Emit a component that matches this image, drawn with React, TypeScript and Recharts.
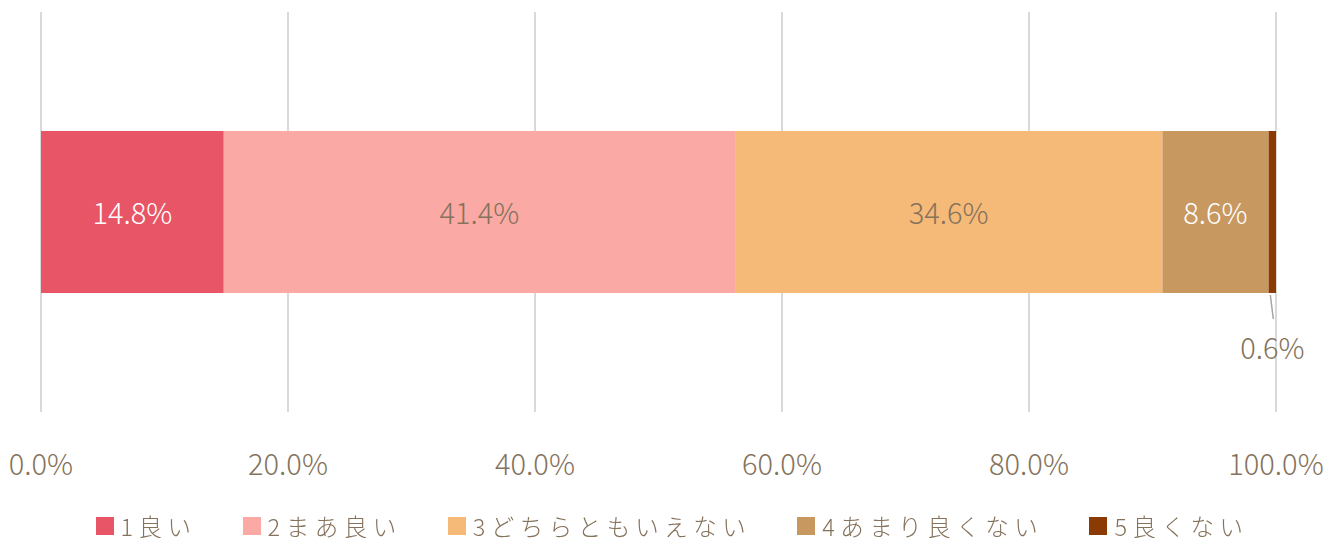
import { Bar, BarChart, CartesianGrid, LabelList, Legend, XAxis, YAxis } from "recharts";

const categories = ["回答"];
const seriesNames = ["1良い", "2まあ良い", "3どちらともいえない", "4あまり良くない", "5良くない"];
const seriesValues = [14.8, 41.4, 34.6, 8.6, 0.6];
const seriesColors = ["#E85566", "#FBA9A4", "#F5B978", "#C89861", "#8B3A04"];
const labelColors = ["#ffffff", "#85725C", "#85725C", "#ffffff", "#85725C"];
const xTicks = [0, 20, 40, 60, 80, 100];

const FONT = "'Noto Sans CJK JP', 'Noto Sans', sans-serif";
const TEXT = "#85725C";

const data = categories.map((name) => {
  const row: Record<string, string | number> = { name };
  seriesValues.forEach((v, i) => (row["s" + i] = v));
  return row;
});

const fmt = (v: number) => `${v.toFixed(1)}%`;

function AxisTick({ x, y, payload }: any) {
  return (
    <text x={x} y={y + 55} textAnchor="middle" fill={TEXT} fontSize={29} fontWeight={300} fontFamily={FONT}>
      {fmt(payload.value)}
    </text>
  );
}

// small slice: label sits under the bar with a short leader line
function OutsideLabel({ x, y, width, height, value }: any) {
  const cx = x + width / 2;
  const bottom = y + height;
  return (
    <g>
      <line x1={cx - 2} y1={bottom + 2} x2={cx + 1} y2={bottom + 26} stroke="#a6a6a6" strokeWidth={1.5} />
      <text x={cx} y={bottom + 66} textAnchor="middle" fill={TEXT} fontSize={29} fontWeight={300} fontFamily={FONT}>
        {fmt(value)}
      </text>
    </g>
  );
}

function LegendBox() {
  return (
    <div
      style={{
        display: "flex",
        justifyContent: "center",
        gap: 46,
        fontFamily: FONT,
        fontSize: 23.5,
        fontWeight: 300,
        letterSpacing: 5.5,
        color: TEXT,
        lineHeight: "22px",
        height: 36,
        boxSizing: "border-box",
        paddingTop: 13,
        whiteSpace: "nowrap",
      }}
    >
      {seriesNames.map((n, i) => (
        <div key={n} style={{ display: "flex", alignItems: "center", height: 22 }}>
          <span style={{ width: 18, height: 18, background: seriesColors[i], marginRight: 7 }} />
          <span>{n}</span>
        </div>
      ))}
    </div>
  );
}

export default function App() {
  return (
    <div style={{ position: "fixed", left: 0, top: 0, background: "#fff" }}>
      <BarChart
        width={1344}
        height={538}
        data={data}
        layout="vertical"
        margin={{ top: 12, right: 68, left: 41, bottom: 0 }}
      >
        <CartesianGrid horizontal={false} stroke="#d9d9d9" strokeWidth={2} />
        <XAxis
          type="number"
          domain={[0, 100]}
          ticks={xTicks}
          axisLine={false}
          tickLine={false}
          height={90}
          tick={<AxisTick />}
          interval={0}
        />
        <YAxis type="category" dataKey="name" hide />
        <Legend
          verticalAlign="bottom"
          height={36}
          content={<LegendBox />}
          wrapperStyle={{ left: 0, width: 1344 }}
        />
        {seriesNames.map((n, i) => (
          <Bar
            key={n}
            dataKey={"s" + i}
            name={n}
            stackId="a"
            fill={seriesColors[i]}
            barSize={162}
            isAnimationActive={false}
          >
            {i < seriesNames.length - 1 ? (
              <LabelList
                dataKey={"s" + i}
                position="center"
                formatter={(v: any) => fmt(Number(v))}
                fill={labelColors[i]}
                fontSize={29}
                fontWeight={300}
                fontFamily={FONT}
                dy={2}
              />
            ) : (
              <LabelList dataKey={"s" + i} content={<OutsideLabel />} />
            )}
          </Bar>
        ))}
      </BarChart>
    </div>
  );
}
